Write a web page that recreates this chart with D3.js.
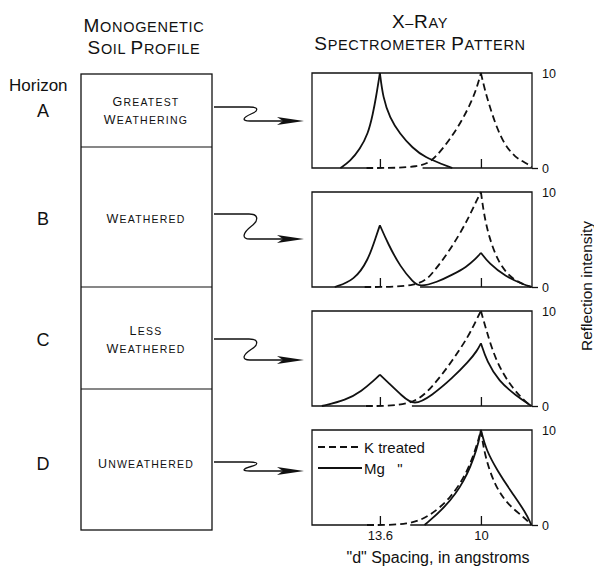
<!DOCTYPE html>
<html>
<head>
<meta charset="utf-8">
<title>Monogenetic soil profile - X-ray pattern</title>
<script src="https://d3js.org/d3.v7.min.js"></script>
<style>
  body { margin: 0; background: #fff; }
  svg { display: block; font-family: "Liberation Sans", Arial, sans-serif; fill: #111; }
</style>
</head>
<body>
<div id="container"></div>
<script>
// horizons of the profile
var horizons = ["A", "B", "C", "D"];
var profileText = [["Greatest", "Weathering"], ["Weathered"], ["Less", "Weathered"], ["Unweathered"]];
var horizonThickness = [73, 140, 102, 141];   // relative box heights

var dTicks = [13.6, 10];
var dTickLabels = ["13.6", "10"];
var intensityTicks = [0, 10];

// [d spacing (angstroms), reflection intensity]
var kA = [[14.09, 0], [12.08, 0], [11.62, 1.1], [11.13, 2.9], [10.67, 5.0], [10.32, 7.1], [10.14, 8.5], [10, 10],
          [9.86, 8.2], [9.61, 5.7], [9.26, 2.9], [8.8, 1.1], [8.31, 0.4], [8.2, 0.1]];
var mgA = [[15.01, 0], [14.66, 0.7], [14.31, 2.0], [14.02, 3.6], [13.85, 5.7], [13.74, 7.4], [13.6, 10],
           [13.49, 7.4], [13.25, 5.3], [12.89, 3.6], [12.44, 2.1], [11.98, 1.1], [11.38, 0.4], [11.02, 0]];

var kB = [[14.16, 0], [12.17, 0], [11.71, 1.5], [11.22, 3.4], [10.77, 5.5], [10.42, 7.4], [10.17, 9.0], [10, 10],
          [9.9, 7.8], [9.72, 5.3], [9.37, 2.5], [8.92, 0.9], [8.43, 0.2], [8.2, 0]];
var mgB = [[15.21, 0], [14.51, 0.7], [14.02, 2.8], [13.74, 5.3], [13.6, 6.5], [13.32, 4.6], [12.87, 2.1],
           [12.41, 0.5], [12.17, 0], [11.57, 0.5], [11.01, 1.3], [10.52, 2.1], [10.17, 3.0], [10, 3.6],
           [9.72, 2.5], [9.13, 1.1], [8.43, 0.2], [8.2, 0]];

var kC = [[14.1, 0], [12.46, 0], [11.75, 1.9], [11.03, 4.7], [10.43, 7.4], [10.14, 9.2], [10, 10],
          [9.82, 8.1], [9.47, 4.7], [8.9, 1.9], [8.36, 0.3], [8.2, 0]];
var mgC = [[15.67, 0], [14.81, 0.6], [14.24, 1.6], [13.81, 2.7], [13.6, 3.3], [13.28, 2.4], [12.82, 1.1],
           [12.39, 0], [11.75, 1.1], [11.03, 2.9], [10.43, 4.7], [10.14, 5.8], [10, 6.6],
           [9.79, 4.7], [9.36, 2.6], [8.75, 1.1], [8.2, 0]];

var kD = [[14.06, 0], [12.52, 0], [11.8, 1.0], [11.08, 2.8], [10.47, 5.6], [10.11, 8.7], [10, 10],
          [9.86, 7.2], [9.5, 4.1], [9.03, 2.1], [8.42, 0.7], [8.2, 0]];
var mgD = [[12.01, 0], [11.29, 1.8], [10.58, 4.5], [10.11, 8.2], [10, 10],
           [9.82, 7.9], [9.39, 5.6], [8.92, 3.5], [8.42, 1.4], [8.2, 0]];

var kTreated = [kA, kB, kC, kD];
var mgTreated = [mgA, mgB, mgC, mgD];

// layout
var W = 594, H = 569;
var pLeft = 312, pRight = 532, pTop = 73, pStep = 119, pHeight = 95;
var boxLeft = 81, boxRight = 212;
var rowMid = [110, 218, 339, 463];
var arrowEnd = [121, 239, 360, 471];
var arrowStart = [107, 214, 339, 462];

var svg = d3.select("#container").append("svg")
    .attr("width", W).attr("height", H);

// lettering-style small caps: capitals big, the rest small
function smallCaps(sel, str, big, small) {
    var runs = [];
    str.split("").forEach(function(ch) {
        var isBig = ch !== ch.toLowerCase();
        var last = runs[runs.length - 1];
        if (last && last.big === isBig) last.t += ch;
        else runs.push({ big: isBig, t: ch });
    });
    runs.forEach(function(r) {
        sel.append("tspan").attr("font-size", r.big ? big : small).text(r.t.toUpperCase());
    });
    return sel;
}

function title(lines, x, y0) {
    lines.forEach(function(t, i) {
        var el = svg.append("text")
            .attr("x", x).attr("y", y0 + i * 22)
            .attr("text-anchor", "middle")
            .attr("letter-spacing", 0.7);
        smallCaps(el, t, 19, 14.5);
    });
}
title(["Monogenetic", "Soil Profile"], 144, 32);
title(["X\u2013Ray", "Spectrometer Pattern"], 420, 28);

// soil profile column
var cum = [0];
horizonThickness.forEach(function(t, i) { cum.push(cum[i] + t); });
var profY = d3.scaleLinear().domain([0, cum[cum.length - 1]]).range([74, 530]);

svg.append("rect")
    .attr("x", boxLeft).attr("y", profY(0))
    .attr("width", boxRight - boxLeft).attr("height", profY(cum[4]) - profY(0))
    .attr("fill", "none").attr("stroke", "#111").attr("stroke-width", 1.3);

svg.selectAll(".hline").data(cum.slice(1, 4)).enter().append("line")
    .attr("x1", boxLeft).attr("x2", boxRight)
    .attr("y1", function(d) { return profY(d); })
    .attr("y2", function(d) { return profY(d); })
    .attr("stroke", "#111").attr("stroke-width", 1.2);

svg.append("text").attr("x", 9).attr("y", 91)
    .attr("font-size", 17).text("Horizon");

horizons.forEach(function(h, i) {
    svg.append("text").attr("x", 43).attr("y", rowMid[i] + 7)
        .attr("text-anchor", "middle").attr("font-size", 18).text(h);

    var lines = profileText[i];
    lines.forEach(function(t, j) {
        var el = svg.append("text")
            .attr("x", 146)
            .attr("y", rowMid[i] + 5 + (j - (lines.length - 1) / 2) * 18)
            .attr("text-anchor", "middle")
            .attr("letter-spacing", 1.2);
        smallCaps(el, t, 12.5, 10.5);
    });

    // wavy arrow
    var x0 = boxRight + 2, y0 = arrowStart[i], y1 = arrowEnd[i], tip = 304;
    var dy = y1 - y0;
    var p = d3.path();
    p.moveTo(x0, y0);
    p.lineTo(x0 + 35, y0);
    p.bezierCurveTo(x0 + 46, y0, x0 + 44, y0 + dy * 0.3, x0 + 37, y0 + dy * 0.5);
    p.bezierCurveTo(x0 + 29, y0 + dy * 0.75, x0 + 27, y1, x0 + 36, y1);
    p.lineTo(tip - 20, y1);
    svg.append("path").attr("d", p.toString())
        .attr("fill", "none").attr("stroke", "#111").attr("stroke-width", 1.3);
    svg.append("path")
        .attr("d", "M" + tip + "," + y1 + "L" + (tip - 27) + "," + (y1 - 4) +
                   "L" + (tip - 21) + "," + y1 + "L" + (tip - 27) + "," + (y1 + 4) + "Z")
        .attr("fill", "#111");
});

// spectrometer panels
var x = d3.scaleLinear().domain([16.02, 8.18]).range([pLeft, pRight]);

// split a trace at its peaks so every peak is drawn as a sharp cusp
function branches(pts) {
    var out = [], cur = [pts[0]];
    for (var i = 1; i < pts.length; i++) {
        cur.push(pts[i]);
        if (i < pts.length - 1 && pts[i][1] > pts[i - 1][1] && pts[i][1] > pts[i + 1][1]) {
            out.push(cur);
            cur = [pts[i]];
        }
    }
    out.push(cur);
    return out;
}

horizons.forEach(function(h, i) {
    var top = pTop + i * pStep, bottom = top + pHeight;
    var y = d3.scaleLinear().domain([0, 10]).range([bottom, top]);
    var g = svg.append("g");

    // frame: bottom edge broken where the K curve lies dashed on the baseline
    var k = kTreated[i];
    var frame = d3.path();
    frame.moveTo(x(k[0][0]), bottom);
    frame.lineTo(pLeft, bottom);
    frame.lineTo(pLeft, top);
    frame.lineTo(pRight, top);
    frame.lineTo(pRight, bottom);
    frame.lineTo(x(k[1][0]), bottom);
    g.append("path").attr("d", frame.toString())
        .attr("fill", "none").attr("stroke", "#111").attr("stroke-width", 1.3);

    var line = d3.line()
        .x(function(d) { return x(d[0]); })
        .y(function(d) { return y(d[1]); })
        .curve(d3.curveBasis);

    branches(mgTreated[i]).forEach(function(seg) {
        g.append("path").attr("d", line(seg))
            .attr("fill", "none").attr("stroke", "#111").attr("stroke-width", 1.8);
    });
    branches(k).forEach(function(seg) {
        g.append("path").attr("d", line(seg))
            .attr("fill", "none").attr("stroke", "#111").attr("stroke-width", 1.8)
            .attr("stroke-dasharray", "7,4");
    });

    // d-spacing ticks
    var xAxis = d3.axisBottom(x).tickValues(dTicks).tickSize(-9).tickPadding(6)
        .tickFormat(function(d, j) { return i === 3 ? dTickLabels[j] : ""; });
    var ax = g.append("g").attr("transform", "translate(0," + bottom + ")").call(xAxis);
    ax.select(".domain").remove();
    ax.selectAll(".tick line").attr("stroke", "#111").attr("stroke-width", 1.3);
    ax.selectAll("text").attr("font-size", 13).attr("font-family", "Liberation Sans, Arial, sans-serif").attr("fill", "#111");

    // intensity scale on the right
    var yAxis = d3.axisRight(y).tickValues(intensityTicks).tickSize(6).tickPadding(4);
    var ay = g.append("g").attr("transform", "translate(" + pRight + ",0)").call(yAxis);
    ay.select(".domain").remove();
    ay.selectAll(".tick line").attr("stroke", "#111").attr("stroke-width", 1.3)
        .filter(function(d) { return d === 10; }).remove();
    ay.selectAll("text").attr("font-size", 12.5).attr("font-family", "Liberation Sans, Arial, sans-serif").attr("fill", "#111");

    // legend in the last panel
    if (i === 3) {
        var legend = [["K treated", "7,4", 17], ["Mg   \"", null, 38]];
        legend.forEach(function(l) {
            var ly = top + l[2];
            g.append("line").attr("x1", pLeft + 6).attr("x2", pLeft + 50)
                .attr("y1", ly).attr("y2", ly)
                .attr("stroke", "#111").attr("stroke-width", 1.8)
                .attr("stroke-dasharray", l[1]);
            g.append("text").attr("x", pLeft + 52).attr("y", ly + 6)
                .attr("font-size", 15)
                .style("white-space", "pre").text(l[0]);
        });
    }
});

svg.append("text")
    .attr("transform", "translate(592,286) rotate(-90)")
    .attr("text-anchor", "middle").attr("font-size", 15.5)
    .text("Reflection intensity");

svg.append("text")
    .attr("x", 438).attr("y", 563)
    .attr("text-anchor", "middle").attr("font-size", 16)
    .text("\"d\" Spacing, in angstroms");
</script>
</body>
</html>
